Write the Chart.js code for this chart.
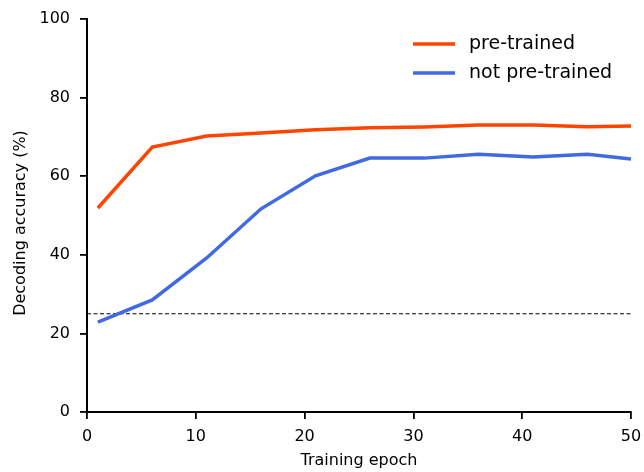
<!DOCTYPE html>
<html>
<head>
<meta charset="utf-8">
<script src="https://cdn.jsdelivr.net/npm/chart.js@4.4.1/dist/chart.umd.min.js"></script>
<style>
html,body{margin:0;padding:0;background:#fff;}
#wrap{width:644px;height:472px;position:relative;}
</style>
</head>
<body>
<div id="wrap"><canvas id="c" width="644" height="472"></canvas></div>
<script>
const epochs = [1, 6, 11, 16, 21, 26, 31, 36, 41, 46, 50];
const pretrained = [51.9, 67.4, 70.2, 71.0, 71.8, 72.3, 72.5, 73.0, 73.0, 72.6, 72.8];
const notPretrained = [22.9, 28.5, 39.2, 51.7, 60.1, 64.6, 64.6, 65.6, 64.9, 65.6, 64.4];
const chanceX = [0, 50];
const chanceLevel = [25, 25];
const xTicks = [0, 10, 20, 30, 40, 50];
const yTicks = [0, 20, 40, 60, 80, 100];
const seriesNames = ['pre-trained', 'not pre-trained'];
const xTitle = 'Training epoch';
const yTitle = 'Decoding accuracy (%)';

const FONT = "'DejaVu Sans', sans-serif";
const colors = ['#FF4500', '#4169E1'];

function pts(xs, ys){ return xs.map((x,i)=>({x:x, y:ys[i]})); }

const decorPlugin = {
  id: 'decor',
  afterDraw(chart){
    const ctx = chart.ctx;
    ctx.save();
    // legend
    ctx.font = "19px " + FONT;
    ctx.textBaseline = 'middle';
    ctx.textAlign = 'left';
    ctx.fillStyle = '#000';
    const rows = [44, 73];
    seriesNames.forEach((n,i)=>{
      ctx.strokeStyle = colors[i];
      ctx.lineWidth = 3.5;
      ctx.beginPath();
      ctx.moveTo(413, rows[i]);
      ctx.lineTo(455, rows[i]);
      ctx.stroke();
      ctx.fillText(n, 469, rows[i]);
    });
    // axis titles
    ctx.font = "16px " + FONT;
    ctx.textAlign = 'center';
    ctx.textBaseline = 'middle';
    const ca = chart.chartArea;
    ctx.fillText(xTitle, (ca.left + ca.right) / 2, 461);
    ctx.translate(21, 223);
    ctx.rotate(-Math.PI / 2);
    ctx.fillText(yTitle, 0, 0);
    ctx.restore();
  }
};

new Chart(document.getElementById('c'), {
  type: 'line',
  data: {
    datasets: [
      { label: seriesNames[0], data: pts(epochs, pretrained), borderColor: colors[0], borderWidth: 3.5, pointRadius: 0, fill: false, tension: 0 },
      { label: seriesNames[1], data: pts(epochs, notPretrained), borderColor: colors[1], borderWidth: 3.5, pointRadius: 0, fill: false, tension: 0 },
      { label: 'chance', data: pts(chanceX, chanceLevel), borderColor: '#000', borderWidth: 1, borderDash: [4, 2.5], pointRadius: 0, fill: false }
    ]
  },
  options: {
    responsive: false,
    animation: false,
    layout: { padding: { top: 19, right: 13, left: 0, bottom: 0 } },
    plugins: { legend: { display: false }, tooltip: { enabled: false } },
    scales: {
      x: {
        type: 'linear', min: 0, max: 50,
        afterBuildTicks(s){ s.ticks = xTicks.map(v=>({value:v})); },
        afterFit(s){ s.height = 60; s.paddingLeft = 0; s.paddingRight = 0; },
        grid: { display: true, drawOnChartArea: false, drawTicks: true, tickLength: 7, color: '#000', lineWidth: 1.8 },
        border: { display: true, color: '#000', width: 2 },
        ticks: { color: '#000', font: { family: FONT, size: 16 }, padding: 8, maxRotation: 0 },
        title: { display: false }
      },
      y: {
        type: 'linear', min: 0, max: 100,
        afterBuildTicks(s){ s.ticks = yTicks.map(v=>({value:v})); },
        afterFit(s){ s.width = 87; s.paddingTop = 0; s.paddingBottom = 0; },
        grid: { display: true, drawOnChartArea: false, drawTicks: true, tickLength: 7, color: '#000', lineWidth: 1.8 },
        border: { display: true, color: '#000', width: 2 },
        ticks: { color: '#000', font: { family: FONT, size: 16 }, padding: 10 },
        title: { display: false }
      }
    }
  },
  plugins: [decorPlugin]
});
</script>
</body>
</html>
